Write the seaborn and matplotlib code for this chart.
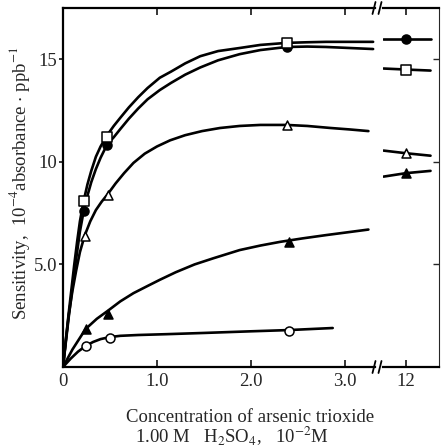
import matplotlib
matplotlib.use("Agg")
import matplotlib.pyplot as plt
from matplotlib.lines import Line2D
import seaborn as sns

# measured points, x: arsenic trioxide (10^-2 M), y: sensitivity (10^-4 abs/ppb)
fc_x = [0.22, 0.47, 2.38]
fc_y = [7.6, 10.8, 15.6]
sq_x = [0.22, 0.47, 2.38]
sq_y = [8.1, 11.2, 15.8]
ot_x = [0.23, 0.48, 2.38]
ot_y = [6.4, 8.4, 11.8]
ft_x = [0.24, 0.48, 2.40]
ft_y = [1.85, 2.6, 6.1]
oc_x = [0.24, 0.50, 2.40]
oc_y = [1.0, 1.4, 1.75]

# hand-drawn curves
top_cx = [0, .03, .06, .09, .12, .15, .18, .22, .26, .30, .35, .40, .47, .54, .61,
          .70, .80, .90, 1.03, 1.15, 1.30, 1.46, 1.65, 1.88, 2.10, 2.38, 2.60, 2.80, 3.05, 3.30]
fc_cy = [0, 1.2, 2.4, 3.5, 4.6, 5.6, 6.6, 7.6, 8.35, 9.0, 9.65, 10.2, 10.85, 11.2, 11.6,
         12.1, 12.6, 13.05, 13.5, 13.85, 14.25, 14.6, 14.95, 15.25, 15.45, 15.6, 15.62, 15.6, 15.55, 15.5]
sq_cy = [0, 1.3, 2.6, 3.8, 5.0, 6.1, 7.1, 8.1, 8.9, 9.55, 10.25, 10.75, 11.3, 11.75, 12.15,
         12.65, 13.15, 13.6, 14.1, 14.4, 14.8, 15.15, 15.4, 15.55, 15.7, 15.8, 15.83, 15.85, 15.85, 15.85]
ot_cx = [0, .03, .06, .10, .14, .18, .23, .29, .35, .41, .48, .56, .65, .75, .87, 1.0,
         1.14, 1.30, 1.48, 1.67, 1.88, 2.10, 2.38, 2.60, 2.85, 3.05, 3.25]
ot_cy = [0, 1.3, 2.5, 3.7, 4.7, 5.6, 6.4, 7.1, 7.65, 8.05, 8.45, 8.95, 9.45, 9.95, 10.4, 10.75,
         11.05, 11.3, 11.5, 11.65, 11.75, 11.8, 11.8, 11.75, 11.65, 11.58, 11.5]
ft_cx = [0, .10, .24, .36, .48, .61, .75, .90, 1.03, 1.20, 1.40, 1.60, 1.88, 2.10, 2.31,
         2.55, 2.80, 3.05, 3.25]
ft_cy = [0, 0.85, 1.85, 2.35, 2.75, 3.2, 3.6, 3.95, 4.25, 4.62, 5.0, 5.3, 5.7, 5.92, 6.1,
         6.27, 6.43, 6.58, 6.7]
oc_cx = [0, .08, .16, .24, .32, .40, .50, .61, .80, 1.10, 1.50, 2.00, 2.40, 2.87]
oc_cy = [0, 0.4, 0.75, 1.02, 1.22, 1.36, 1.46, 1.52, 1.56, 1.6, 1.66, 1.74, 1.8, 1.9]

# values at 12 x 10^-2 M (right panel)
far_cx = [11.76, 12.0, 12.26]
fc_fy = [16.0, 16.0, 16.0]
sq_fy = [14.55, 14.5, 14.45]
ot_fy = [10.55, 10.42, 10.3]
ft_fy = [9.28, 9.45, 9.56]

series = [
    # marker, face, marks x/y, curve x/y, far y
    ("o", "black", fc_x, fc_y, top_cx, fc_cy, fc_fy),
    ("s", "white", sq_x, sq_y, top_cx, sq_cy, sq_fy),
    ("^", "white", ot_x, ot_y, ot_cx, ot_cy, ot_fy),
    ("^", "black", ft_x, ft_y, ft_cx, ft_cy, ft_fy),
    ("o", "white", oc_x, oc_y, oc_cx, oc_cy, None),
]

sns.set_theme(style="ticks")
plt.rcParams["font.family"] = ["Liberation Serif", "DejaVu Serif"]
plt.rcParams["mathtext.fontset"] = "stix"

W, H = 441, 447
fig = plt.figure(figsize=(W / 100, H / 100), dpi=100)
ax1 = fig.add_axes([63 / W, 1 - 367 / H, (375 - 63) / W, (367 - 8) / H])
ax2 = fig.add_axes([383 / W, 1 - 367 / H, (439 - 383) / W, (367 - 8) / H], sharey=ax1)

for mk, face, mx, my, cx, cy, fy in series:
    sns.lineplot(x=cx, y=cy, ax=ax1, color="black", lw=1.9, sort=False, estimator=None)
    sns.scatterplot(x=mx, y=my, ax=ax1, marker=mk, s=42, facecolor=face,
                    edgecolor="black", linewidth=1.1, zorder=5)
    if fy is not None:
        sns.lineplot(x=far_cx, y=fy, ax=ax2, color="black", lw=1.9, sort=False, estimator=None)
        sns.scatterplot(x=[far_cx[1]], y=[fy[1]], ax=ax2, marker=mk, s=42, facecolor=face,
                        edgecolor="black", linewidth=1.1, zorder=5)

ax1.set_xlim(0, 3.32)
ax1.set_ylim(0, 17.5)
ax2.set_xlim(11.755, 12.35)

ax1.set_xticks([0, 1, 2, 3])
ax1.set_xticklabels(["0", "1.0", "2.0", "3.0"])
ax1.set_yticks([5, 10, 15])
ax1.set_yticklabels(["5.0", "10", "15"])
ax1.tick_params(axis="x", direction="in", top=True, length=5, width=1.3, labelsize=13.5, pad=4)
ax1.tick_params(axis="y", direction="out", length=3, width=1.3, labelsize=13.5, pad=1)
ax1.spines["right"].set_visible(False)

ax2.set_xticks([12])
ax2.set_xticklabels(["12"])
ax2.tick_params(axis="x", direction="in", top=True, length=5, width=1.3, labelsize=13.5, pad=4)
ax2.tick_params(axis="y", direction="in", left=False, right=True, labelleft=False,
                length=4, width=1.0)
ax2.spines["left"].set_visible(False)
ax2.spines["right"].set_linewidth(0.8)

for ax in (ax1, ax2):
    ax.set_xlabel("")
    ax.set_ylabel("")
    for side in ("top", "bottom", "left"):
        ax.spines[side].set_linewidth(1.6)
        ax.spines[side].set_color("black")

# axis break marks
for yb in (367, 8):
    for xb in (374, 380):
        fig.add_artist(Line2D([(xb - 1.5) / W, (xb + 1.5) / W],
                              [1 - (yb + 6) / H, 1 - (yb - 6) / H],
                              color="black", lw=1.3))

fig.text(20 / W, 1 - 183 / H,
         "Sensitivity,  10$^{-4}$absorbance $\\cdot$ ppb$^{-1}$",
         rotation=90, ha="center", va="center", fontsize=13.5)
fig.text(250 / W, 1 - 417 / H, "Concentration of arsenic trioxide",
         ha="center", va="center", fontsize=13.5)
fig.text(232 / W, 1 - 436 / H, "1.00 M   H$_2$SO$_4$,   10$^{-2}$M",
         ha="center", va="center", fontsize=13.5)

fig.savefig("out.png", dpi=100)
